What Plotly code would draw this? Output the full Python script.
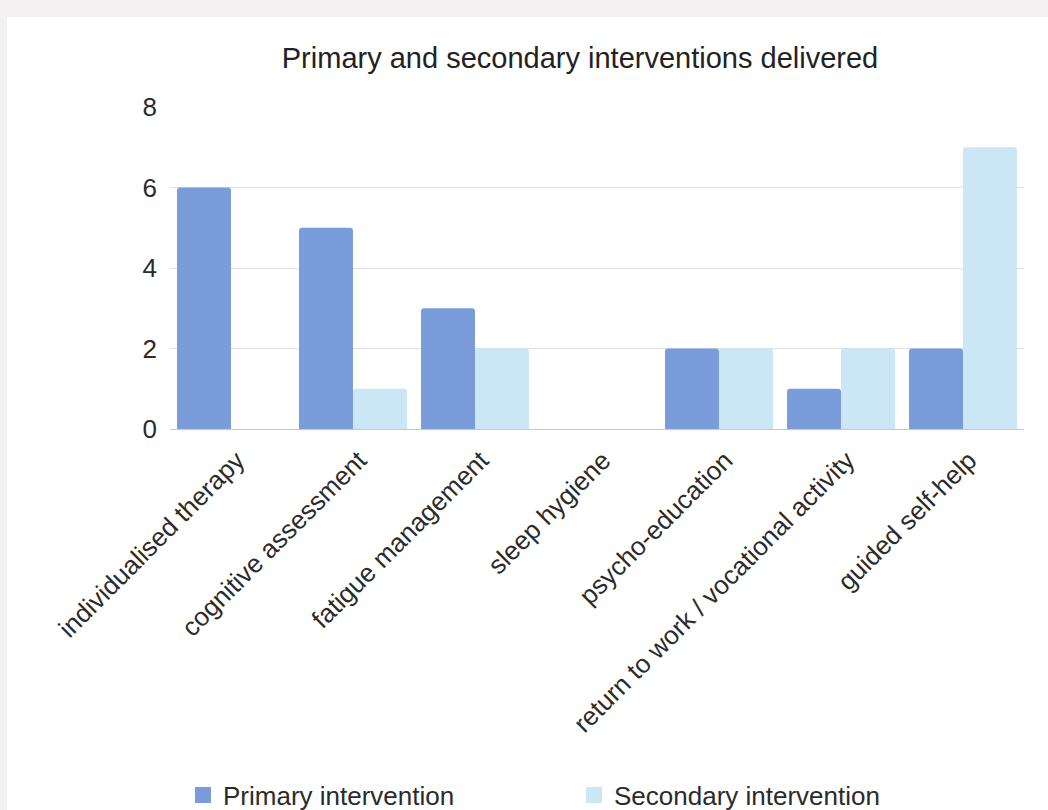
import plotly.graph_objects as go

categories = [
    "individualised therapy",
    "cognitive assessment",
    "fatigue management",
    "sleep hygiene",
    "psycho-education",
    "return to work / vocational activity",
    "guided self-help",
]
primary = [6, 5, 3, 0, 2, 1, 2]
secondary = [0, 1, 2, 0, 2, 2, 7]
y_ticks = [0, 2, 4, 6, 8]

series = [
    ("Primary intervention", primary, "#7a9cdb"),
    ("Secondary intervention", secondary, "#cbe6f4"),
]

W, H = 1048, 810
L, R, T, B = 170, 24, 107, 381
pw, ph = W - L - R, H - T - B


def px_x(x):
    return (x - L) / pw


def px_y(y):
    return (H - B - y) / ph


FONT = "Liberation Sans, Arial, sans-serif"

fig = go.Figure()
for name, values, color in series:
    fig.add_trace(go.Bar(name=name, x=categories, y=values, legendgroup=name,
                         showlegend=False,
                         marker=dict(color=color, line=dict(width=0))))
# legend entries with larger square swatches
for name, values, color in series:
    fig.add_trace(go.Scatter(name=name, x=[None], y=[None], mode="markers",
                             legendgroup=name, showlegend=True,
                             marker=dict(symbol="square", size=20, color=color)))

# page frame: light grey strip on top and left of the white card
fig.add_shape(type="rect", xref="paper", yref="paper", layer="below",
              x0=px_x(0), x1=px_x(W), y0=px_y(17), y1=px_y(0),
              fillcolor="#f2f0f0", line=dict(width=0))
fig.add_shape(type="rect", xref="paper", yref="paper", layer="below",
              x0=px_x(0), x1=px_x(7), y0=px_y(H), y1=px_y(0),
              fillcolor="#f2f0f0", line=dict(width=0))

fig.update_layout(
    width=W, height=H,
    margin=dict(l=L, r=R, t=T, b=B, pad=0, autoexpand=False),
    paper_bgcolor="white", plot_bgcolor="white",
    barmode="group", bargap=0.115, bargroupgap=0,
    barcornerradius=3,
    font=dict(family=FONT, size=26, color="#2b2b2b"),
    title=dict(text="Primary and secondary interventions delivered",
               xref="container", x=580 / W, xanchor="center",
               yref="container", y=1 - 58 / H, yanchor="middle",
               font=dict(family=FONT, size=29, color="#222222")),
    xaxis=dict(tickangle=-45, showgrid=False, ticks="", showline=False,
               ticklabelstandoff=10, ticklabelshift=6,
               tickfont=dict(size=26, color="#2b2b2b")),
    yaxis=dict(range=[0, 8], tickvals=y_ticks, showgrid=True,
               gridcolor="#e0e0e0", gridwidth=1, zeroline=True,
               zerolinecolor="#c8c8c8", zerolinewidth=1, ticks="",
               ticklabelstandoff=12,
               tickfont=dict(size=26, color="#2b2b2b")),
    legend=dict(orientation="h", x=px_x(183), xanchor="left",
                y=px_y(795), yanchor="middle",
                entrywidth=346, entrywidthmode="pixels",
                itemsizing="trace",
                font=dict(family=FONT, size=26, color="#2b2b2b")),
    showlegend=True,
)

fig.write_html("out.html")
